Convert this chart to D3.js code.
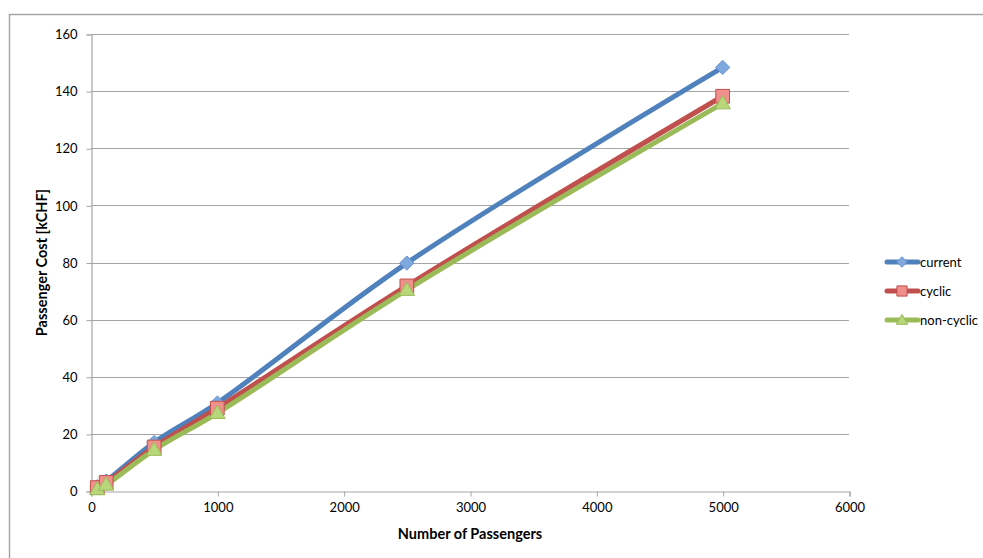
<!DOCTYPE html>
<html>
<head>
<meta charset="utf-8">
<script src="https://cdn.jsdelivr.net/npm/d3@7"></script>
<style>
  html, body { margin: 0; padding: 0; background: #fff; }
  svg { display: block; font-family: Lato, "Open Sans", sans-serif; }
</style>
</head>
<body>
<svg id="chart" width="983" height="558"></svg>
<script>
// Passenger counts on the x axis
const passengers = [50, 120, 500, 1000, 2500, 5000];
// Passenger cost in kCHF for each scheme
const currentCost   = [1.5, 3.5, 17.0, 30.8, 79.8, 148.3];
const cyclicCost    = [1.2, 3.0, 15.4, 29.0, 71.8, 138.2];
const nonCyclicCost = [0.6, 2.2, 14.4, 27.3, 70.4, 135.7];
const seriesNames = ["current", "cyclic", "non-cyclic"];
const xTicks = [0, 1000, 2000, 3000, 4000, 5000, 6000];
const yTicks = [0, 20, 40, 60, 80, 100, 120, 140, 160];

const series = [
  { name: seriesNames[0], values: currentCost,   line: "#4F81BD", fill: "#7FA8DE", stroke: "#6A95D0", shape: d3.symbolDiamond2,  size: 130, dy: 0 },
  { name: seriesNames[1], values: cyclicCost,    line: "#C0504D", fill: "#F0908C", stroke: "#C0504D", shape: d3.symbolSquare2,   size: 240, dy: 0 },
  { name: seriesNames[2], values: nonCyclicCost, line: "#9BBB59", fill: "#B8D77A", stroke: "#9BBB59", shape: d3.symbolTriangle2, size: 170, dy: 1 }
];

const svg = d3.select("#chart");

// outer chart frame
svg.append("rect")
  .attr("x", 9.5).attr("y", 14.5)
  .attr("width", 990).attr("height", 560)
  .attr("fill", "none").attr("stroke", "#a6a6a6").attr("stroke-width", 1.5);

const plot = { left: 91, right: 849, top: 34, bottom: 491 };
const x = d3.scaleLinear().domain([0, 6000]).range([plot.left, plot.right]);
const y = d3.scaleLinear().domain([0, 160]).range([plot.bottom, plot.top]);

// horizontal gridlines
svg.append("g").selectAll("line").data(yTicks.filter(d => d > 0)).join("line")
  .attr("x1", plot.left).attr("x2", plot.right)
  .attr("y1", d => Math.round(y(d)) + 0.5).attr("y2", d => Math.round(y(d)) + 0.5)
  .attr("stroke", "#a6a6a6").attr("stroke-width", 1);

// y axis
const yAxis = svg.append("g")
  .attr("transform", `translate(${plot.left + 0.5},0.5)`)
  .call(d3.axisLeft(y).tickValues(yTicks).tickSize(5).tickPadding(9));
// x axis
const xAxis = svg.append("g")
  .attr("transform", `translate(0.5,${plot.bottom + 0.5})`)
  .call(d3.axisBottom(x).tickValues(xTicks).tickSize(5).tickPadding(6).tickFormat(d3.format("d")));

[yAxis, xAxis].forEach(ax => {
  ax.select(".domain").attr("stroke", "#a6a6a6").attr("stroke-width", 1.2);
  ax.selectAll(".tick line").attr("stroke", "#a6a6a6");
  ax.selectAll(".tick text").attr("fill", "#000").style("font-size", "13px")
    .style("font-family", "Lato, 'Open Sans', sans-serif");
});

// axis titles
svg.append("text")
  .attr("x", (plot.left + plot.right) / 2).attr("y", 539)
  .attr("text-anchor", "middle").attr("font-weight", "bold").attr("font-size", 14.5)
  .text("Number of Passengers");
svg.append("text")
  .attr("transform", `translate(47,${(plot.top + plot.bottom) / 2}) rotate(-90)`)
  .attr("text-anchor", "middle").attr("font-weight", "bold").attr("font-size", 14.5)
  .text("Passenger Cost [kCHF]");

// smoothed series lines
const line = d3.line()
  .x((d, i) => x(passengers[i]))
  .y(d => y(d))
  .curve(d3.curveCatmullRom.alpha(0.5));

series.forEach(s => {
  svg.append("path")
    .datum(s.values)
    .attr("d", line)
    .attr("fill", "none")
    .attr("stroke", s.line)
    .attr("stroke-width", 5)
    .attr("stroke-linejoin", "round");
});

// markers
series.forEach(s => {
  svg.append("g").selectAll("path").data(s.values).join("path")
    .attr("transform", (d, i) => `translate(${x(passengers[i])},${y(d) + s.dy})`)
    .attr("d", d3.symbol().type(s.shape).size(s.size))
    .attr("fill", s.fill)
    .attr("stroke", s.stroke)
    .attr("stroke-width", 1);
});

// legend
const legend = svg.append("g");
series.forEach((s, i) => {
  const ly = 262 + i * 29;
  legend.append("line")
    .attr("x1", 887).attr("x2", 918).attr("y1", ly).attr("y2", ly)
    .attr("stroke", s.line).attr("stroke-width", 5).attr("stroke-linecap", "round");
  legend.append("path")
    .attr("transform", `translate(902,${ly + s.dy})`)
    .attr("d", d3.symbol().type(s.shape).size(s.size * 0.55))
    .attr("fill", s.fill).attr("stroke", s.stroke).attr("stroke-width", 1);
  legend.append("text")
    .attr("x", 920).attr("y", ly + 4.5)
    .attr("font-size", 13)
    .text(s.name);
});
</script>
</body>
</html>
